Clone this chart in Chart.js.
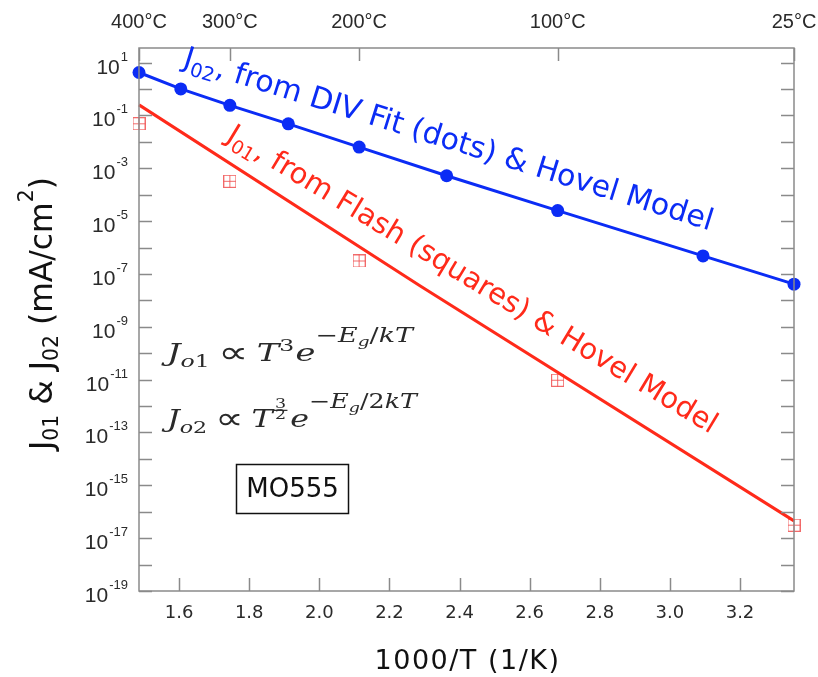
<!DOCTYPE html>
<html>
<head>
<meta charset="utf-8">
<script src="https://cdn.jsdelivr.net/npm/chart.js@4.4.1/dist/chart.umd.min.js"></script>
<style>
  html, body { margin: 0; background: #fff; }
</style>
</head>
<body>
<canvas id="chart" width="818" height="677"></canvas>
<script>
// 1000/T positions of the measured temperatures (400,350,300,250,200,150,100,50,25 C)
const invT = [1.4856, 1.6048, 1.7448, 1.9115, 2.1135, 2.3632, 2.6799, 3.0945, 3.3540];
const j02 = [4.2, 1.0, 0.24, 0.048, 6.3e-3, 5.2e-4, 2.5e-5, 4.8e-7, 4.1e-8];

// Hovel model line for J01
const modelX = [1.4856, 2.288, 3.354];
const j01Model = [0.25, 3.5e-8, 4.5e-17];

// Flash measurements (squares)
const flashX = [1.4856, 1.7448, 2.1135, 2.6799, 3.354];
const j01Flash = [0.048, 3.2e-4, 3.1e-7, 9.5e-12, 3.1e-17];

const xTicks = [1.6, 1.8, 2.0, 2.2, 2.4, 2.6, 2.8, 3.0, 3.2];
const tempC = [400, 300, 200, 100, 25];
const yExp = [1, -1, -3, -5, -7, -9, -11, -13, -15, -17, -19];

const BLUE = '#0b2cf5';
const RED = '#ff2a1a';
const SANS = '"DejaVu Sans", sans-serif';
const SERIF = '"DejaVu Serif", serif';

// square with a cross, like the flash markers
const sq = document.createElement('canvas');
sq.width = 13; sq.height = 13;
(() => {
  const c = sq.getContext('2d');
  c.strokeStyle = 'rgba(240,80,80,0.85)';
  c.lineWidth = 1;
  c.strokeRect(0.5, 0.5, 12, 12);
  c.beginPath();
  c.moveTo(6.5, 0.5); c.lineTo(6.5, 12.5);
  c.moveTo(0.5, 6.5); c.lineTo(12.5, 6.5);
  c.stroke();
})();

const zip = (xs, ys) => xs.map((x, i) => ({ x, y: ys[i] }));

// text made of pieces with sub/superscripts; returns width
function rich(ctx, x, y, parts, size, family, draw) {
  let cx = x;
  for (const p of parts) {
    if (p.g) { cx += p.g * size; continue; }
    const s = size * (p.s || 1);
    ctx.font = (p.it ? 'italic ' : '') + s + 'px ' + (p.f || family);
    const dy = (p.dy || 0) * size;
    if (p.frac) {
      const w = Math.max(ctx.measureText(p.frac[0]).width, ctx.measureText(p.frac[1]).width);
      if (draw) {
        ctx.textAlign = 'center';
        ctx.fillText(p.frac[0], cx + w / 2, y + dy - 0.3 * size);
        ctx.fillText(p.frac[1], cx + w / 2, y + dy + 0.14 * size);
        ctx.fillRect(cx - 1, y + dy - 0.24 * size, w + 2, 1.2);
        ctx.textAlign = 'left';
      }
      cx += w + 0.05 * size;
      continue;
    }
    const w = ctx.measureText(p.t).width;
    if (draw) ctx.fillText(p.t, cx, y + dy);
    cx += w;
  }
  return cx - x;
}

// scale the font so the whole run is `target` px long
function fitted(ctx, x, y, parts, target, family) {
  const w1 = rich(ctx, 0, 0, parts, 100, family, false) / 100;
  rich(ctx, x, y, parts, target / w1, family, true);
}

// fixed font size, stretched horizontally to `target`
function stretched(ctx, x, y, parts, size, target, family) {
  const w = rich(ctx, 0, 0, parts, size, family, false);
  ctx.save();
  ctx.translate(x, y);
  ctx.scale(target / w, 1);
  rich(ctx, 0, 0, parts, size, family, true);
  ctx.restore();
}

const expo = (t, it) => ({ t, it, s: 0.8, dy: -0.75 });
const prop = { t: '∝', f: '"DejaVu Sans", sans-serif', s: 1.25, dy: 0.06 };

const decor = {
  id: 'decor',
  afterDraw(chart) {
    const { ctx, chartArea: a, scales: { x, y } } = chart;
    ctx.save();
    ctx.textBaseline = 'alphabetic';
    ctx.textAlign = 'left';

    // frame and inward ticks
    ctx.strokeStyle = '#8a8a8a';
    ctx.lineWidth = 1.5;
    ctx.strokeRect(a.left, a.top, a.right - a.left, a.bottom - a.top);
    ctx.beginPath();
    for (let e = -19; e <= 1; e++) {
      const py = Math.round(y.getPixelForValue(Math.pow(10, e))) + 0.5;
      ctx.moveTo(a.left, py); ctx.lineTo(a.left + 13, py);
      ctx.moveTo(a.right, py); ctx.lineTo(a.right - 13, py);
    }
    xTicks.forEach(v => {
      const px = Math.round(x.getPixelForValue(v)) + 0.5;
      ctx.moveTo(px, a.bottom); ctx.lineTo(px, a.bottom - 13);
    });
    tempC.forEach(t => {
      const px = Math.round(x.getPixelForValue(1000 / (t + 273.15))) + 0.5;
      ctx.moveTo(px, a.top); ctx.lineTo(px, a.top + 13);
    });
    ctx.stroke();

    // y tick labels 10^n
    ctx.fillStyle = '#2a2a2a';
    yExp.forEach(e => {
      const py = y.getPixelForValue(Math.pow(10, e));
      ctx.font = '13px "Liberation Sans", sans-serif';
      const ex = String(e);
      const we = ctx.measureText(ex).width;
      ctx.fillText(ex, a.left - 11 - we, py - 2);
      ctx.font = '21px "Liberation Sans", sans-serif';
      const wb = ctx.measureText('10').width;
      ctx.fillText('10', a.left - 12 - we - wb, py + 11);
    });

    // bottom tick labels
    ctx.textAlign = 'center';
    ctx.font = '18px ' + SANS;
    xTicks.forEach(v => ctx.fillText(v.toFixed(1), x.getPixelForValue(v), 618));

    // top temperature labels
    ctx.font = '20px "Liberation Sans", sans-serif';
    tempC.forEach(t => ctx.fillText(t + '°C', x.getPixelForValue(1000 / (t + 273.15)), 28));

    // x title
    ctx.fillStyle = '#111';
    ctx.font = '27px ' + SANS;
    ctx.letterSpacing = '1.5px';
    ctx.fillText('1000/T (1/K)', (a.left + a.right) / 2 + 1, 669);
    ctx.letterSpacing = '0px';
    ctx.textAlign = 'left';

    // y title
    ctx.save();
    ctx.translate(52, 450);
    ctx.rotate(-Math.PI / 2);
    fitted(ctx, 0, 0, [
      { t: 'J' }, { t: '01', s: 0.65, dy: 0.2 }, { t: ' & J' }, { t: '02', s: 0.65, dy: 0.2 },
      { t: ' (mA/cm' }, { t: '2', s: 0.65, dy: -0.6 }, { t: ')' }
    ], 273, SANS);
    ctx.restore();

    // rotated series labels
    ctx.save();
    ctx.fillStyle = BLUE;
    ctx.translate(182, 66);
    ctx.rotate(17.3 * Math.PI / 180);
    fitted(ctx, 0, 0, [
      { t: 'J' }, { t: '02', s: 0.65, dy: 0.22 }, { t: ', from DIV Fit (dots) & Hovel Model' }
    ], 553, SANS);
    ctx.restore();

    ctx.save();
    ctx.fillStyle = RED;
    ctx.translate(225, 140);
    ctx.rotate(31.2 * Math.PI / 180);
    fitted(ctx, 0, 0, [
      { t: 'J' }, { t: '01', s: 0.65, dy: 0.22 }, { t: ', from Flash (squares) & Hovel Model' }
    ], 568, SANS);
    ctx.restore();

    // equations
    ctx.fillStyle = '#2a2a2a';
    stretched(ctx, 167, 361, [
      { t: 'J', it: 1 }, { t: 'o', it: 1, s: 0.7, dy: 0.25 }, { t: '1', s: 0.7, dy: 0.25 },
      { g: 0.25 }, prop, { g: 0.25 }, { t: 'T', it: 1 }, { t: '3', s: 0.7, dy: -0.4 }, { g: 0.04 },
      { t: 'e', it: 1 }, expo('−'), expo('E', 1), { t: 'g', it: 1, s: 0.55, dy: -0.6 },
      expo('/'), expo('kT', 1)
    ], 25, 246, SERIF);
    stretched(ctx, 167, 427, [
      { t: 'J', it: 1 }, { t: 'o', it: 1, s: 0.7, dy: 0.25 }, { t: '2', s: 0.7, dy: 0.25 },
      { g: 0.25 }, prop, { g: 0.25 }, { t: 'T', it: 1 }, { g: 0.08 }, { frac: ['3', '2'], s: 0.55, dy: -0.45 },
      { g: 0.08 }, { t: 'e', it: 1 }, expo('−'), expo('E', 1), { t: 'g', it: 1, s: 0.55, dy: -0.6 },
      expo('/2'), expo('kT', 1)
    ], 25, 250, SERIF);

    // sample box
    ctx.strokeStyle = '#111';
    ctx.lineWidth = 1.5;
    ctx.strokeRect(236.5, 464.5, 112, 49);
    ctx.fillStyle = '#111';
    ctx.font = '26px ' + SANS;
    ctx.textAlign = 'center';
    ctx.textBaseline = 'middle';
    ctx.fillText('MO555', 292.5, 490);

    ctx.restore();
  }
};

new Chart(document.getElementById('chart'), {
  type: 'scatter',
  data: {
    datasets: [
      {
        label: 'J01 Hovel model',
        data: zip(modelX, j01Model),
        showLine: true,
        borderColor: RED,
        borderWidth: 3,
        pointRadius: 0,
        clip: false
      },
      {
        label: 'J01 flash',
        data: zip(flashX, j01Flash),
        pointStyle: sq,
        pointRadius: 6,
        clip: false
      },
      {
        label: 'J02 DIV fit',
        data: zip(invT, j02),
        showLine: true,
        borderColor: BLUE,
        backgroundColor: BLUE,
        borderWidth: 3,
        pointRadius: 6.5,
        pointBorderWidth: 0,
        clip: false
      }
    ]
  },
  options: {
    responsive: false,
    animation: false,
    devicePixelRatio: 1,
    layout: { padding: { left: 139, right: 24, top: 48, bottom: 86 } },
    plugins: { legend: { display: false }, tooltip: { enabled: false } },
    scales: {
      x: { type: 'linear', min: 1.4856, max: 3.354, display: false },
      y: { type: 'logarithmic', min: 1e-19, max: 35.5, display: false }
    }
  },
  plugins: [decor]
});
</script>
</body>
</html>
